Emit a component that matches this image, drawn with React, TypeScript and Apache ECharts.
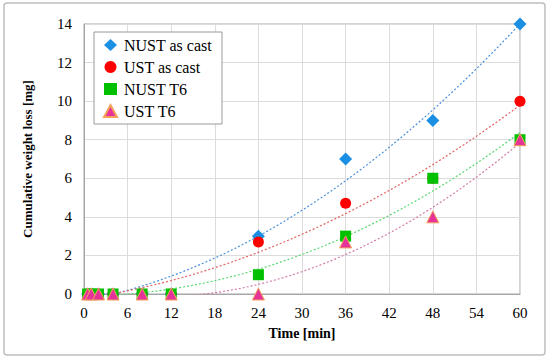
import React, { useEffect, useRef } from "react";
import * as echarts from "echarts";

const times = [0.5, 1, 2, 4, 8, 12, 24, 36, 48, 60];
const nustAsCast = [0, 0, 0, 0, 0, 0, 3, 7, 9, 14];
const ustAsCast = [0, 0, 0, 0, 0, 0, 2.7, 4.7, 6, 10];
const nustT6 = [0, 0, 0, 0, 0, 0, 1, 3, 6, 8];
const ustT6 = [0, 0, 0, 0, 0, 0, 0, 2.7, 4, 8];
const seriesNames = ["NUST as cast", "UST as cast", "NUST T6", "UST T6"];
const xTicks = { min: 0, max: 60, interval: 6 };
const yTicks = { min: 0, max: 14, interval: 2 };

function polyfit2(xs: number[], ys: number[]): [number, number, number] {
  let s0 = 0, s1 = 0, s2 = 0, s3 = 0, s4 = 0, t0 = 0, t1 = 0, t2 = 0;
  xs.forEach((x, i) => {
    const y = ys[i];
    s0 += 1; s1 += x; s2 += x * x; s3 += x * x * x; s4 += x * x * x * x;
    t0 += y; t1 += x * y; t2 += x * x * y;
  });
  const det = (m: number[][]) =>
    m[0][0] * (m[1][1] * m[2][2] - m[1][2] * m[2][1]) -
    m[0][1] * (m[1][0] * m[2][2] - m[1][2] * m[2][0]) +
    m[0][2] * (m[1][0] * m[2][1] - m[1][1] * m[2][0]);
  const M = [[s0, s1, s2], [s1, s2, s3], [s2, s3, s4]];
  const T = [t0, t1, t2];
  const D = det(M);
  const rep = (col: number) => M.map((row, r) => row.map((v, c) => (c === col ? T[r] : v)));
  const c = det(rep(0)) / D;
  const b = det(rep(1)) / D;
  const a = det(rep(2)) / D;
  return [a, b, c];
}

function trend(ys: number[]) {
  const [a, b, c] = polyfit2(times, ys);
  const pts: number[][] = [];
  const x0 = times[0];
  const x1 = times[times.length - 1];
  const n = 240;
  for (let i = 0; i <= n; i++) {
    const x = x0 + ((x1 - x0) * i) / n;
    pts.push([x, a * x * x + b * x + c]);
  }
  return pts;
}

const FONT = "Liberation Serif";

export default function App() {
  const ref = useRef<HTMLDivElement>(null);
  useEffect(() => {
    document.body.style.margin = "0";
    const chart = echarts.init(ref.current!, null, { renderer: "svg" });
    const data = [nustAsCast, ustAsCast, nustT6, ustT6];
    const markerColors = ["#1a8fe3", "#ff0000", "#00c000", "#e6339a"];
    const trendColors = ["#4a8fdc", "#e26060", "#55d86e", "#d47aaa"];
    const symbols = ["diamond", "circle", "rect", "triangle"];
    const sizes = [13, 11, 11, 12];
    const scatter = data.map((ys, i) => ({
      name: seriesNames[i],
      type: "scatter",
      symbol: symbols[i],
      symbolSize: sizes[i],
      z: 10 + i,
      itemStyle: {
        color: markerColors[i],
        borderColor: i === 3 ? "#f4a25a" : markerColors[i],
        borderWidth: i === 3 ? 1 : 0,
        opacity: 1,
      },
      data: times.map((t, k) => [t, ys[k]]),
    }));
    const lines = data.map((ys, i) => ({
      name: seriesNames[i] + " trend",
      type: "line",
      showSymbol: false,
      symbol: "none",
      clip: true,
      z: 5,
      lineStyle: { color: trendColors[i], width: 1.2, type: [2, 2] },
      data: trend(ys),
    }));
    chart.setOption({
      animation: false,
      textStyle: { fontFamily: FONT },
      graphic: [
        {
          type: "rect",
          shape: { x: 4, y: 3, width: 541, height: 352, r: 3 },
          style: { fill: "none", stroke: "#bfbfbf", lineWidth: 1.5 },
          silent: true,
          z: -1,
        },
      ],
      grid: {
        left: 84,
        right: 30,
        top: 24,
        bottom: 70,
        show: true,
        borderColor: "#a6a6a6",
        borderWidth: 1,
      },
      legend: {
        data: seriesNames,
        orient: "vertical",
        left: 94,
        top: 32,
        padding: [5, 10, 5, 9],
        itemWidth: 13,
        itemHeight: 12,
        itemGap: 6,
        backgroundColor: "#ffffff",
        borderColor: "#9a9a9a",
        borderWidth: 1,
        textStyle: { fontFamily: FONT, fontSize: 16, color: "#000", padding: [0, 0, 0, 2] },
      },
      xAxis: {
        type: "value",
        ...xTicks,
        name: "Time [min]",
        nameLocation: "middle",
        nameGap: 32,
        nameTextStyle: { fontFamily: FONT, fontSize: 14, fontWeight: "bold", color: "#000" },
        axisLine: { show: true, lineStyle: { color: "#a6a6a6" } },
        axisTick: { show: false },
        axisLabel: { fontFamily: FONT, fontSize: 15, color: "#000", margin: 11 },
        splitLine: { show: true, lineStyle: { color: "#dcdcdc", width: 1 } },
      },
      yAxis: {
        type: "value",
        ...yTicks,
        name: "Cumulative weight loss [mg]",
        nameLocation: "middle",
        nameGap: 50,
        nameTextStyle: { fontFamily: FONT, fontSize: 13, fontWeight: "bold", color: "#000" },
        axisLine: { show: true, lineStyle: { color: "#a6a6a6" } },
        axisTick: { show: false },
        axisLabel: { fontFamily: FONT, fontSize: 15, color: "#000", margin: 12 },
        splitLine: { show: true, lineStyle: { color: "#dcdcdc", width: 1 } },
      },
      series: [...lines, ...scatter],
    });
    return () => chart.dispose();
  }, []);
  return <div ref={ref} style={{ width: 550, height: 364 }} />;
}
